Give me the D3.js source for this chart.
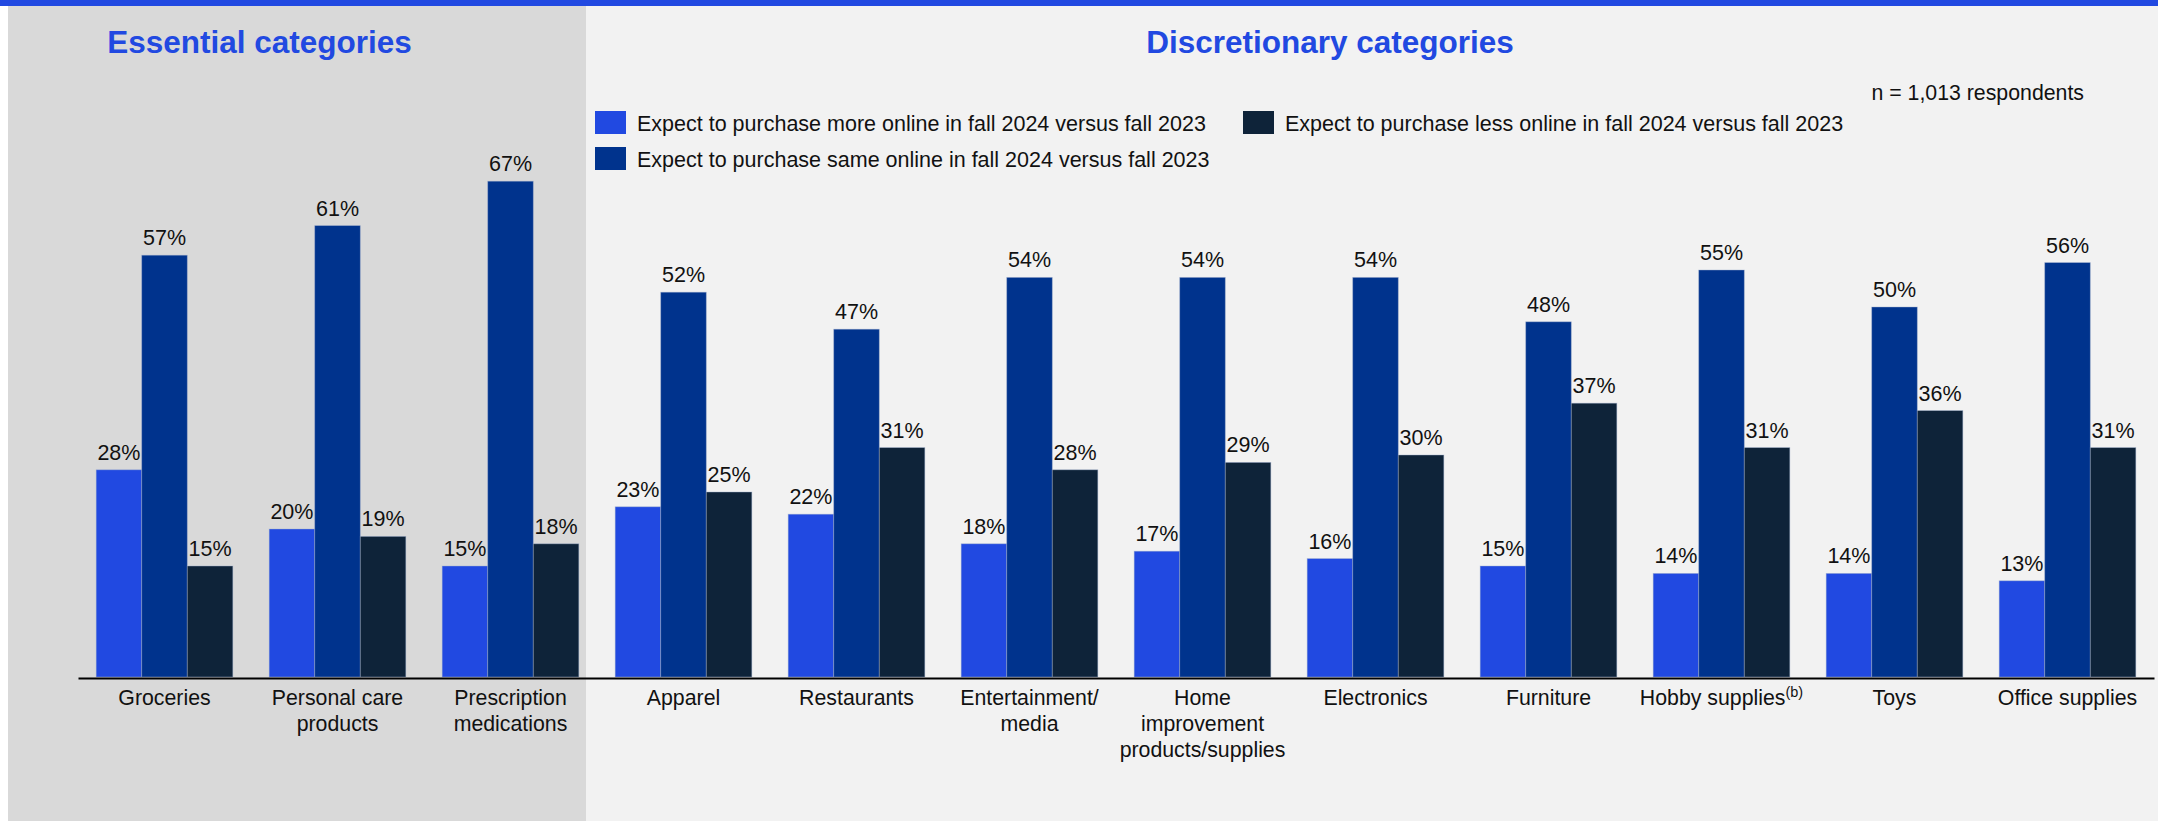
<!DOCTYPE html>
<html>
<head>
<meta charset="utf-8">
<script src="https://cdn.jsdelivr.net/npm/d3@7/dist/d3.min.js"></script>
<style>
  html, body { margin: 0; padding: 0; background: #ffffff; }
  svg { display: block; font-family: "Liberation Sans", Arial, Helvetica, sans-serif; }
</style>
</head>
<body>
<svg id="chart" width="2158" height="821"></svg>
<script>
// Survey: online purchase intent, fall 2024 vs fall 2023 (share of respondents, %)
const categories = [
  "Groceries", "Personal care products", "Prescription medications",
  "Apparel", "Restaurants", "Entertainment/ media",
  "Home improvement products/supplies", "Electronics", "Furniture",
  "Hobby supplies", "Toys", "Office supplies"
];
// Line breaks for the category tick labels
const tickLines = [
  ["Groceries"], ["Personal care", "products"], ["Prescription", "medications"],
  ["Apparel"], ["Restaurants"], ["Entertainment/", "media"],
  ["Home", "improvement", "products/supplies"], ["Electronics"], ["Furniture"],
  ["Hobby supplies"], ["Toys"], ["Office supplies"]
];

const moreOnline = [28, 20, 15, 23, 22, 18, 17, 16, 15, 14, 14, 13];
const sameOnline = [57, 61, 67, 52, 47, 54, 54, 54, 48, 55, 50, 56];
const lessOnline = [15, 19, 18, 25, 31, 28, 29, 30, 37, 31, 36, 31];

const seriesNames = [
  "Expect to purchase more online in fall 2024 versus fall 2023",
  "Expect to purchase same online in fall 2024 versus fall 2023",
  "Expect to purchase less online in fall 2024 versus fall 2023"
];
const seriesKeys = ["more", "same", "less"];
const seriesColors = ["#2149E1", "#00338D", "#0E2339"];

const W = 2158, H = 821;
const svg = d3.select("#chart");

// Backgrounds: top rule, essential panel, discretionary panel
const panelSplit = 586;
svg.append("rect").attr("x", 8).attr("y", 0).attr("width", panelSplit - 8).attr("height", H).attr("fill", "#D9D9D9");
svg.append("rect").attr("x", panelSplit).attr("y", 0).attr("width", W - panelSplit).attr("height", H).attr("fill", "#F2F2F2");
svg.append("rect").attr("x", 0).attr("y", 0).attr("width", W).attr("height", 6).attr("fill", "#2149E1");

// Section titles
svg.append("text").attr("x", 259.5).attr("y", 52.5).attr("text-anchor", "middle")
  .attr("font-size", 31.5).attr("font-weight", "bold").attr("fill", "#2149E1")
  .text("Essential categories");
svg.append("text").attr("x", 1330).attr("y", 52.5).attr("text-anchor", "middle")
  .attr("font-size", 31.5).attr("font-weight", "bold").attr("fill", "#2149E1")
  .text("Discretionary categories");

// Sample size note
svg.append("text").attr("x", 2084).attr("y", 100).attr("text-anchor", "end")
  .attr("font-size", 21.3).attr("fill", "#111").text("n = 1,013 respondents");

// Legend
const legendPos = [[595, 111], [595, 147], [1243, 111]];
const legend = svg.append("g");
seriesNames.forEach((name, i) => {
  const g = legend.append("g").attr("transform", `translate(${legendPos[i][0]},${legendPos[i][1]})`);
  g.append("rect").attr("width", 31).attr("height", 23).attr("fill", seriesColors[i]);
  g.append("text").attr("x", 42).attr("y", 20.3).attr("font-size", 21.5).attr("fill", "#111").text(name);
});

// Scales
const baseY = 677;
const x0 = d3.scaleBand().domain(categories).range([78, 2154]).paddingInner(0.21).paddingOuter(0.105);
const x1 = d3.scaleBand().domain(seriesKeys).range([0, x0.bandwidth()]);
const y = d3.scaleLinear().domain([0, 100]).range([baseY, baseY - 740]);

const rows = categories.map((c, i) => ({
  category: c,
  values: [
    { key: "more", value: moreOnline[i] },
    { key: "same", value: sameOnline[i] },
    { key: "less", value: lessOnline[i] }
  ]
}));
const color = d3.scaleOrdinal().domain(seriesKeys).range(seriesColors);

const groups = svg.append("g").selectAll("g").data(rows).join("g")
  .attr("transform", d => `translate(${x0(d.category)},0)`);

groups.selectAll("rect").data(d => d.values).join("rect")
  .attr("x", d => x1(d.key))
  .attr("y", d => y(d.value))
  .attr("width", x1.bandwidth())
  .attr("height", d => y(0) - y(d.value))
  .attr("fill", d => color(d.key))
  .attr("stroke", "rgba(160,175,205,0.55)")
  .attr("stroke-width", 0.8);

groups.selectAll("text.val").data(d => d.values).join("text")
  .attr("class", "val")
  .attr("x", d => x1(d.key) + x1.bandwidth() / 2)
  .attr("y", d => y(d.value) - 10)
  .attr("text-anchor", "middle")
  .attr("font-size", 21.5)
  .attr("fill", "#111")
  .text(d => d.value + "%");

// Category axis
const axis = svg.append("g").attr("transform", `translate(0,${baseY + 1})`)
  .call(d3.axisBottom(x0).tickSize(0).tickSizeOuter(0).tickFormat(""));
axis.select(".domain").attr("stroke", "#000").attr("stroke-width", 2);
axis.selectAll(".tick text").remove();
axis.selectAll(".tick").each(function (d, i) {
  const t = d3.select(this).append("text")
    .attr("text-anchor", "middle")
    .attr("font-size", 21.3)
    .attr("fill", "#111");
  tickLines[i].forEach((line, j) => {
    t.append("tspan").attr("x", 0).attr("y", 27 + j * 26).text(line);
    if (d === "Hobby supplies") {
      t.append("tspan").attr("dy", -8).attr("font-size", 14.5).text("(b)");
    }
  });
});
</script>
</body>
</html>
